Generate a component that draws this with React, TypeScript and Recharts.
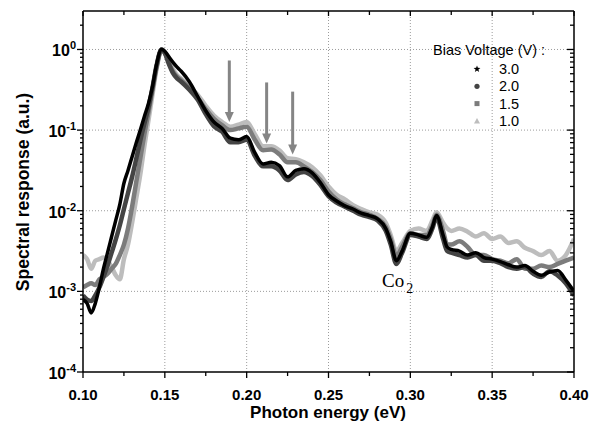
import { LineChart, Line, XAxis, YAxis, CartesianGrid, ReferenceLine } from "recharts"

// photon energy (eV), finer steps across the absorption edge
const energy = [
  0.1, 0.1025, 0.105, 0.1075, 0.11, 0.1125, 0.115, 0.1175, 0.12, 0.1225,
  0.125, 0.1275, 0.13, 0.1325, 0.135, 0.1375, 0.14, 0.1425, 0.145, 0.148,
  0.15, 0.1525, 0.155, 0.1575, 0.16, 0.165, 0.17, 0.175, 0.18, 0.185,
  0.19, 0.195, 0.2, 0.205, 0.21, 0.215, 0.22, 0.225, 0.23, 0.235,
  0.24, 0.245, 0.25, 0.255, 0.26, 0.265, 0.27, 0.275, 0.28, 0.285,
  0.288, 0.2915, 0.295, 0.3, 0.305, 0.31, 0.3135, 0.316, 0.32, 0.3225,
  0.325, 0.33, 0.335, 0.34, 0.345, 0.35, 0.355, 0.36, 0.365, 0.37,
  0.375, 0.38, 0.385, 0.39, 0.395, 0.4,
]

// normalised spectral response per bias voltage
const bias30 = [
  7.9e-4, 7.1e-4, 5.4e-4, 7.1e-4, 1.12e-3, 1.91e-3, 3.02e-3, 4.79e-3, 7.59e-3, 1.2e-2,
  2.19e-2, 3.16e-2, 4.68e-2, 6.92e-2, 0.1, 0.148, 0.214, 0.35, 0.66, 1,
  0.95, 0.81, 0.692, 0.603, 0.537, 0.398, 0.263, 0.174, 0.126, 0.105,
  0.0794, 0.0759, 0.0832, 0.0525, 0.038, 0.0398, 0.0363, 0.0263, 0.0316, 0.0331,
  0.0295, 0.0224, 0.0158, 0.0132, 0.0115, 0.0105, 0.00933, 0.00871, 0.00794, 0.00603,
  0.00417, 0.0024, 0.00316, 0.00525, 0.00501, 0.00468, 0.00631, 0.00871, 0.00501, 0.00355,
  0.00331, 0.00316, 0.00282, 0.00302, 0.00263, 0.00251, 0.00234, 0.00214, 0.002, 0.00209,
  0.00178, 0.00158, 0.00174, 0.00182, 0.00138, 0.001,
]
const bias20 = [
  8.9e-4, 7.9e-4, 7.6e-4, 8.9e-4, 1.12e-3, 1.51e-3, 2.09e-3, 3.02e-3, 4.37e-3, 6.61e-3,
  1.05e-2, 1.66e-2, 2.63e-2, 4.37e-2, 7.4e-2, 0.12, 0.191, 0.34, 0.64, 1,
  0.9, 0.66, 0.51, 0.437, 0.398, 0.316, 0.24, 0.158, 0.112, 0.0955,
  0.0708, 0.0708, 0.0759, 0.0479, 0.0355, 0.0355, 0.0316, 0.024, 0.0282, 0.0302,
  0.0269, 0.0209, 0.0151, 0.0126, 0.0112, 0.01, 0.00891, 0.00832, 0.00759, 0.00562,
  0.0038, 0.00219, 0.00302, 0.00501, 0.00479, 0.00447, 0.00603, 0.00832, 0.00447, 0.00316,
  0.00302, 0.00282, 0.00263, 0.00282, 0.0024, 0.0024, 0.00224, 0.002, 0.00191, 0.002,
  0.00166, 0.00151, 0.00178, 0.00158, 0.00126, 0.00089,
]
const bias15 = [
  1.12e-3, 1.2e-3, 1.26e-3, 1.2e-3, 1.41e-3, 1.51e-3, 1.66e-3, 1.91e-3, 2.19e-3, 2.82e-3,
  3.8e-3, 6.03e-3, 1.12e-2, 2.24e-2, 4.47e-2, 8.91e-2, 0.166, 0.32, 0.61, 1,
  0.91, 0.68, 0.53, 0.457, 0.417, 0.331, 0.251, 0.182, 0.138, 0.115,
  0.1, 0.105, 0.11, 0.0759, 0.0562, 0.0575, 0.0501, 0.0398, 0.0398, 0.0355,
  0.0302, 0.024, 0.0174, 0.0138, 0.012, 0.0107, 0.00955, 0.00891, 0.00794, 0.00631,
  0.00447, 0.00275, 0.00355, 0.00525, 0.00501, 0.00501, 0.0066, 0.00891, 0.00562, 0.0038,
  0.0038, 0.00417, 0.00355, 0.00282, 0.00282, 0.00251, 0.0024, 0.00224, 0.00251, 0.00191,
  0.00191, 0.00209, 0.002, 0.00219, 0.0024, 0.00263,
]
const bias10 = [
  2.82e-3, 2.51e-3, 1.91e-3, 2.4e-3, 2.51e-3, 2.63e-3, 2.4e-3, 2.0e-3, 1.58e-3, 1.41e-3,
  2.51e-3, 3.8e-3, 7.08e-3, 1.41e-2, 2.82e-2, 6.31e-2, 0.132, 0.28, 0.58, 1,
  0.91, 0.71, 0.57, 0.479, 0.437, 0.347, 0.275, 0.2, 0.151, 0.126,
  0.11, 0.117, 0.126, 0.0891, 0.0631, 0.0631, 0.0562, 0.0447, 0.0437, 0.0398,
  0.0347, 0.0275, 0.02, 0.0158, 0.0138, 0.0117, 0.0105, 0.00955, 0.00891, 0.00708,
  0.00501, 0.00316, 0.00398, 0.00562, 0.00603, 0.00562, 0.00759, 0.00955, 0.00708, 0.00603,
  0.00562, 0.00603, 0.0055, 0.00479, 0.00525, 0.00447, 0.00479, 0.00398, 0.00417, 0.00347,
  0.00316, 0.00282, 0.00316, 0.0024, 0.00282, 0.00447,
]

const xTicks = [0.1, 0.125, 0.15, 0.175, 0.2, 0.225, 0.25, 0.275, 0.3, 0.325, 0.35, 0.375, 0.4]
const xGrid = [0.15, 0.2, 0.25, 0.3, 0.35]
const yDecades = [1e-4, 1e-3, 1e-2, 1e-1, 1]
const yMinorSteps = [2, 3, 4, 5, 6, 7, 8, 9]

// arrows pointing at the absorption features
const arrowX = [0.1894, 0.2122, 0.2281]
const arrowTop = [0.73, 0.39, 0.3]
const arrowTip = [0.126, 0.068, 0.05]

const legendItems = [
  { label: "3.0", color: "#000000", shape: "star" },
  { label: "2.0", color: "#444444", shape: "circle" },
  { label: "1.5", color: "#7c7c7c", shape: "square" },
  { label: "1.0", color: "#bdbdbd", shape: "triangle" },
]

const rows = energy.map((e, i) => ({
  e,
  v30: bias30[i],
  v20: bias20[i],
  v15: bias15[i],
  v10: bias10[i],
}))

const yTicks = [
  ...yDecades,
  ...yDecades.flatMap((d) => yMinorSteps.map((m) => m * d)).filter((v) => v < 3),
].sort((a, b) => a - b)

const font = "'Liberation Sans', Arial, Helvetica, sans-serif"
const isDecade = (v: number) => Math.abs(Math.log10(v) - Math.round(Math.log10(v))) < 1e-6
const isMajorX = (v: number) => Math.abs(v * 20 - Math.round(v * 20)) < 1e-6

function LeftTick({ x, y, payload }: any) {
  const major = isDecade(payload.value)
  return (
    <g>
      <line x1={x - (major ? 6 : 3)} x2={x} y1={y} y2={y} stroke="#000" strokeWidth={1.3} />
      {major && (
        <text x={x - 7} y={y + 7} textAnchor="end" fontFamily={font} fontWeight="bold" fontSize={16} fill="#000">
          10
          <tspan dy={-7} fontSize={11}>
            {Math.round(Math.log10(payload.value))}
          </tspan>
        </text>
      )}
    </g>
  )
}

function RightTick({ x, y, payload }: any) {
  const major = isDecade(payload.value)
  return <line x1={x - (major ? 7 : 4)} x2={x} y1={y} y2={y} stroke="#000" strokeWidth={1.3} />
}

function BottomTick({ x, y, payload }: any) {
  const major = isMajorX(payload.value)
  return (
    <g>
      <line x1={x} x2={x} y1={y} y2={y + (major ? 6 : 4)} stroke="#000" strokeWidth={1.3} />
      {major && (
        <text x={x} y={y + 28} textAnchor="middle" fontFamily={font} fontWeight="bold" fontSize={15} fill="#000">
          {payload.value.toFixed(2)}
        </text>
      )}
    </g>
  )
}

function TopTick({ x, y, payload }: any) {
  const major = isMajorX(payload.value)
  return <line x1={x} x2={x} y1={y} y2={y + (major ? 5 : 4)} stroke="#000" strokeWidth={1.3} />
}

function Arrow(props: any) {
  const { x1, y1, x2, y2 } = props
  const top = Math.min(y1, y2)
  const tip = Math.max(y1, y2)
  const x = (x1 + x2) / 2
  return (
    <g>
      <line x1={x} x2={x} y1={top} y2={tip - 8} stroke="#858585" strokeWidth={3} />
      <polygon points={`${x - 4.5},${tip - 10} ${x + 4.5},${tip - 10} ${x},${tip}`} fill="#858585" />
    </g>
  )
}

function LegendSymbol({ shape, color, cx, cy }: { shape: string; color: string; cx: number; cy: number }) {
  if (shape === "star") {
    const pts = Array.from({ length: 10 }, (_, k) => {
      const r = k % 2 === 0 ? 3.6 : 1.5
      const a = (Math.PI / 5) * k - Math.PI / 2
      return `${cx + r * Math.cos(a)},${cy + r * Math.sin(a)}`
    }).join(" ")
    return <polygon points={pts} fill={color} />
  }
  if (shape === "circle") return <circle cx={cx} cy={cy} r={2.6} fill={color} />
  if (shape === "square") return <rect x={cx - 2.5} y={cy - 2.5} width={5} height={5} fill={color} />
  return <polygon points={`${cx - 3},${cy + 2.5} ${cx + 3},${cy + 2.5} ${cx},${cy - 3}`} fill={color} />
}

export default function App() {
  return (
    <div style={{ position: "absolute", left: 0, top: 0, width: 598, height: 431, background: "#fff" }}>
      <LineChart width={598} height={431} data={rows} margin={{ top: 10, right: 23, bottom: 0, left: 0 }}>
        <CartesianGrid
          horizontalValues={yDecades.slice(1)}
          verticalValues={xGrid}
          stroke="#9c9c9c"
          strokeDasharray="1 2"
        />
        <XAxis
          dataKey="e"
          type="number"
          domain={[0.1, 0.4]}
          allowDataOverflow
          ticks={xTicks}
          interval={0}
          tick={BottomTick}
          tickLine={false}
          tickSize={0}
          tickMargin={0}
          height={59}
          axisLine={{ stroke: "#000", strokeWidth: 1.5 }}
        />
        <XAxis
          xAxisId="top"
          orientation="top"
          dataKey="e"
          type="number"
          domain={[0.1, 0.4]}
          allowDataOverflow
          ticks={xTicks}
          interval={0}
          tick={TopTick}
          tickLine={false}
          tickSize={0}
          tickMargin={0}
          height={1}
          axisLine={{ stroke: "#000", strokeWidth: 1.5 }}
        />
        <YAxis
          scale="log"
          domain={[1e-4, 3]}
          allowDataOverflow
          ticks={yTicks}
          interval={0}
          tick={LeftTick}
          tickLine={false}
          tickSize={0}
          tickMargin={0}
          width={83}
          axisLine={{ stroke: "#000", strokeWidth: 1.5 }}
        />
        <YAxis
          yAxisId="right"
          orientation="right"
          scale="log"
          domain={[1e-4, 3]}
          allowDataOverflow
          ticks={yTicks}
          interval={0}
          tick={RightTick}
          tickLine={false}
          tickSize={0}
          tickMargin={0}
          width={1}
          axisLine={{ stroke: "#000", strokeWidth: 1.5 }}
        />
        <Line type="monotone" dataKey="v10" stroke="#bdbdbd" strokeWidth={4.5} dot={false} isAnimationActive={false} strokeLinejoin="round" />
        <Line type="monotone" dataKey="v15" stroke="#7c7c7c" strokeWidth={4.5} dot={false} isAnimationActive={false} strokeLinejoin="round" />
        <Line type="monotone" dataKey="v20" stroke="#444444" strokeWidth={4.5} dot={false} isAnimationActive={false} strokeLinejoin="round" />
        <Line type="monotone" dataKey="v30" stroke="#000000" strokeWidth={3.5} dot={false} isAnimationActive={false} strokeLinejoin="round" />
        {arrowX.map((x, i) => (
          <ReferenceLine
            key={i}
            segment={[
              { x, y: arrowTop[i] },
              { x, y: arrowTip[i] },
            ]}
            shape={Arrow}
            ifOverflow="visible"
          />
        ))}
      </LineChart>

      <svg width={598} height={431} style={{ position: "absolute", left: 0, top: 0, pointerEvents: "none" }}>
        {/* axis titles */}
        <text x={328} y={418} textAnchor="middle" fontFamily={font} fontWeight="bold" fontSize={17} fill="#000">
          Photon energy (eV)
        </text>
        <text
          transform="translate(29,192) rotate(-90)"
          textAnchor="middle"
          fontFamily={font}
          fontWeight="bold"
          fontSize={17.5}
          fill="#000"
        >
          Spectral response (a.u.)
        </text>

        {/* legend */}
        <text x={433} y={55} fontFamily={font} fontSize={14.5} fill="#000">
          Bias Voltage (V) :
        </text>
        {legendItems.map((item, i) => {
          const cy = 69 + i * 17.3
          return (
            <g key={item.label}>
              <LegendSymbol shape={item.shape} color={item.color} cx={477} cy={cy} />
              <text x={499} y={cy + 5} fontFamily={font} fontSize={14.5} fill="#000">
                {item.label}
              </text>
            </g>
          )
        })}

        {/* CO2 absorption label */}
        <text x={382} y={287} fontFamily="'Liberation Serif', 'Times New Roman', serif" fontSize={19} fill="#000">
          Co
          <tspan dx={2} dy={6} fontSize={14}>
            2
          </tspan>
        </text>
      </svg>
    </div>
  )
}
